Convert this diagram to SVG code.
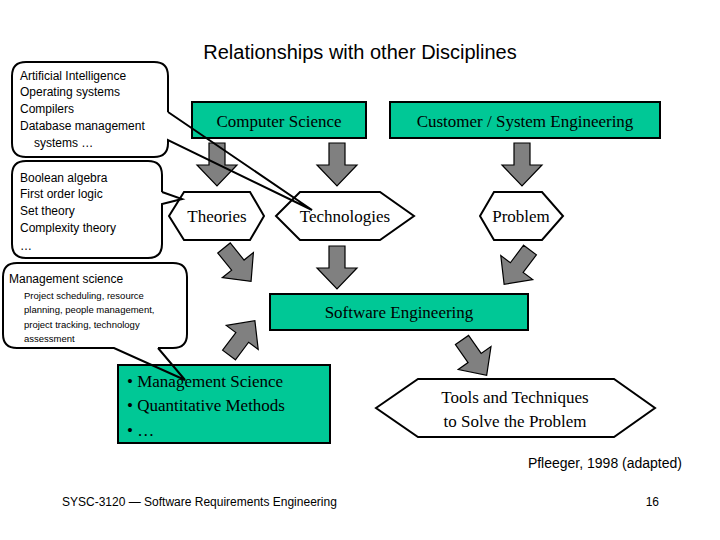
<svg xmlns="http://www.w3.org/2000/svg" width="720" height="540" viewBox="0 0 720 540">
<style>
.g{fill:#00c896;stroke:#000;stroke-width:2}
.h{fill:#fff;stroke:#000;stroke-width:2}
.s{font-family:"Liberation Serif",serif;font-size:17px;fill:#000}
.c{font-family:"Liberation Sans",sans-serif;font-size:12px;fill:#000}
.cs{font-family:"Liberation Sans",sans-serif;font-size:9.5px;fill:#000}
.f{font-family:"Liberation Sans",sans-serif;font-size:12px;fill:#000}
.bf{fill:#fff;stroke:none}
.bs{fill:none;stroke:#000;stroke-width:2}
</style>
<defs>
<polygon id="fa" points="-8,0 8,0 8,22 20,22 0,43 -20,22 -8,22" fill="#808080" stroke="#000" stroke-width="1.2"/>
</defs>
<rect width="720" height="540" fill="#fff"/>
<text x="360" y="59" text-anchor="middle" font-family="Liberation Sans,sans-serif" font-size="20">Relationships with other Disciplines</text>
<g id="connectors">
<use href="#fa" transform="translate(217,143)"/>
<use href="#fa" transform="translate(337,143)"/>
<use href="#fa" transform="translate(522,143)"/>
<use href="#fa" transform="translate(337,246)"/>
<use href="#fa" transform="translate(224,248) rotate(-39)"/>
<use href="#fa" transform="translate(530,250) rotate(37)"/>
<use href="#fa" transform="translate(229,355) rotate(-143)"/>
<use href="#fa" transform="translate(462,340) rotate(-35)"/>
</g>
<g id="cs"><rect class="g" x="192" y="102" width="174" height="36"/><text class="s" x="279" y="127" text-anchor="middle">Computer Science</text></g>
<g id="cse"><rect class="g" x="390" y="102" width="270" height="36"/><text class="s" x="525" y="127" text-anchor="middle">Customer / System Engineering</text></g>
<g id="theories"><polygon class="h" points="169,216 184,192 250,192 264,216 250,240 184,240"/><text class="s" x="217" y="222" text-anchor="middle">Theories</text></g>
<g id="tech"><polygon class="h" points="276,216 300,192 380,192 414,216 380,240 300,240"/><text class="s" x="345" y="222" text-anchor="middle">Technologies</text></g>
<g id="problem"><polygon class="h" points="480,216 494,192 542,192 563,216 542,240 494,240"/><text class="s" x="521" y="222" text-anchor="middle">Problem</text></g>
<g id="se"><rect class="g" x="270" y="294" width="258" height="36"/><text class="s" x="399" y="318" text-anchor="middle">Software Engineering</text></g>
<g id="mgmt"><rect class="g" x="118" y="365" width="212" height="78"/>
<text class="s" x="127" y="387">• Management Science</text>
<text class="s" x="127" y="411">• Quantitative Methods</text>
<text class="s" x="127" y="436">• …</text></g>
<g id="tools"><polygon class="h" points="376,408 418,379 614,379 655,408 614,437 418,437"/>
<text class="s" x="515" y="403" text-anchor="middle">Tools and Techniques</text>
<text class="s" x="515" y="427" text-anchor="middle">to Solve the Problem</text></g>
<g id="callout1"><rect class="bf" x="12" y="62" width="156" height="95" rx="14"/>
<path class="bs" d="M168,112 L312,210 L168,140 V143 Q168,157 154,157 H26 Q12,157 12,143 V76 Q12,62 26,62 H154 Q168,62 168,76 V112"/>
<text class="c" x="20" y="80">Artificial Intelligence</text>
<text class="c" x="20" y="96">Operating systems</text>
<text class="c" x="20" y="113">Compilers</text>
<text class="c" x="20" y="130">Database management</text>
<text class="c" x="34" y="147">systems …</text></g>
<g id="callout2"><rect class="bf" x="12" y="161" width="150" height="97" rx="14"/>
<path class="bs" d="M162,192 L182,199 L162,204 V244 Q162,258 148,258 H26 Q12,258 12,244 V175 Q12,161 26,161 H148 Q162,161 162,175 V192"/>
<text class="c" x="20" y="182">Boolean algebra</text>
<text class="c" x="20" y="198">First order logic</text>
<text class="c" x="20" y="215">Set theory</text>
<text class="c" x="20" y="232">Complexity theory</text>
<text class="c" x="20" y="250">…</text></g>
<g id="callout3"><rect class="bf" x="3" y="263" width="184" height="85" rx="14"/>
<path class="bs" d="M158,348 L185,380 L114,348 H17 Q3,348 3,334 V277 Q3,263 17,263 H173 Q187,263 187,277 V334 Q187,348 173,348 H158"/>
<text class="c" x="9" y="283">Management science</text>
<text class="cs" x="24" y="299">Project scheduling, resource</text>
<text class="cs" x="24" y="313">planning, people management,</text>
<text class="cs" x="24" y="328">project tracking, technology</text>
<text class="cs" x="24" y="342">assessment</text></g>
<text class="f" x="682" y="468" text-anchor="end" style="font-size:14px">Pfleeger, 1998 (adapted)</text>
<text class="f" x="62" y="506">SYSC-3120 — Software Requirements Engineering</text>
<text class="f" x="659" y="506" text-anchor="end">16</text>
</svg>
